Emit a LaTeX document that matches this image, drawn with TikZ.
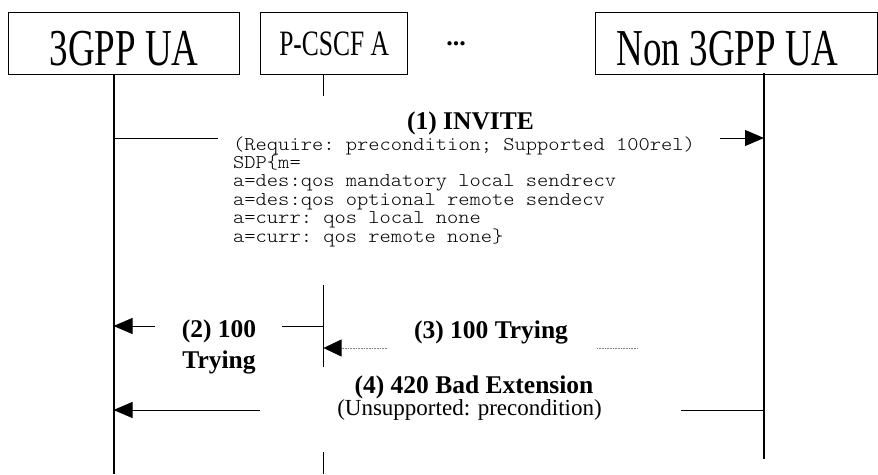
\documentclass[tikz,border=0pt]{standalone}
\usepackage{fontspec}
\setmainfont{Liberation Serif}
\newfontfamily\sdpfont{lmmonolt10-regular}[Extension=.otf, FakeStretch=1.1]
\usepackage{graphicx}
\usetikzlibrary{arrows.meta,positioning}
\setlength{\parindent}{0pt}
\newcommand{\tallname}[1]{\scalebox{1}[1.4]{#1}}
\tikzset{entity box/.style={rectangle, draw, line width=1.4pt, inner sep=0pt,
    anchor=north west, minimum height=62pt}}
\tikzset{big name/.style={font=\fontsize{37}{37}\selectfont, text height=44pt, text depth=0pt}}
\tikzset{life line/.style={draw, line width=2pt}}
\tikzset{proxy line/.style={draw, line width=1.4pt}}
\tikzset{msg line/.style={draw, line width=1pt}}
\tikzset{msg arrow/.style={msg line, -{Triangle[length=19pt,width=16pt]}}}
\tikzset{weak line/.style={draw=gray, line width=0.6pt, densely dotted}}
\tikzset{weak arrow/.style={weak line, -{Triangle[length=18pt,width=17pt,color=black]}}}
\tikzset{msg label/.style={font=\fontsize{25.5}{31}\selectfont\bfseries, inner sep=0pt, anchor=base}}
\tikzset{msg note/.style={font=\fontsize{23}{23}\selectfont, inner sep=0pt, anchor=base}}
\tikzset{sdp text/.style={font=\sdpfont\fontsize{19.5}{18.4}\selectfont\frenchspacing, inner sep=0pt,
    anchor=base west, text width=480pt, align=flush left}}

\begin{document}
\begin{tikzpicture}
      [x=1pt, y=-1pt]
      \useasboundingbox (0,0) rectangle (878,474);
      \node [entity box, big name, minimum width=231pt]  (ua box)    at (8,12)   {\tallname{3GPP UA}};
      \node [entity box, minimum width=147pt, font=\fontsize{25.5}{25.5}\selectfont]
                                                         (pcscf box) at (260,12) {\tallname{P-CSCF A}};
      \node [msg label, font=\fontsize{26}{26}\selectfont\bfseries] (dots) at (456,45) {...};
      \node [entity box, big name, minimum width=282pt, text width=240pt, inner xsep=21pt, align=flush left]
                                                         (nonua box) at (595,12) {\tallname{Non 3GPP UA}};

      \coordinate (ua top)    at (113.5,74);
      \coordinate (ua end)    at (113.5,474);
      \coordinate (pcscf top) at (323.5,74);
      \coordinate (pcscf a)   at (323.5,96);
      \coordinate (pcscf b)   at (323.5,285);
      \coordinate (pcscf c)   at (323.5,367);
      \coordinate (pcscf d)   at (323.5,452);
      \coordinate (pcscf end) at (323.5,474);
      \coordinate (nonua top) at (764,73);
      \coordinate (nonua end) at (764,459);

      \draw [life line]  (ua top)    to (ua end);
      \draw [proxy line] (pcscf top) to (pcscf a);
      \draw [proxy line] (pcscf b)   to (pcscf c);
      \draw [proxy line] (pcscf d)   to (pcscf end);
      \draw [life line]  (nonua top) to (nonua end);

      \coordinate (m1 a) at (113.5,138);
      \coordinate (m1 b) at (218,138);
      \coordinate (m1 c) at (720,138);
      \coordinate (m1 d) at (764,138);
      \coordinate (m2 a) at (155,326);
      \coordinate (m2 b) at (113.5,326);
      \coordinate (m2 c) at (282,326);
      \coordinate (m2 d) at (323.5,326);
      \coordinate (m3 a) at (387,348);
      \coordinate (m3 b) at (323.5,348);
      \coordinate (m3 c) at (597,348);
      \coordinate (m3 d) at (638,348);
      \coordinate (m4 a) at (260,410);
      \coordinate (m4 b) at (113.5,410);
      \coordinate (m4 c) at (681,410);
      \coordinate (m4 d) at (764,410);

      \node [msg label] (m1 label) at (470.5,129) {(1) INVITE};
      \node [sdp text]  (m1 sdp)   at (233,150)
            {(Require: precondition; Supported 100rel)\\
             SDP\{m=\\
             a=des:qos mandatory local sendrecv\\
             a=des:qos optional remote sendecv\\
             a=curr: qos local none\\
             a=curr: qos remote none\}};
      \node [msg label, text width=100pt, align=flush center] (m2 label) at (219,337) {(2) 100\\Trying};
      \node [msg label] (m3 label) at (491,338) {(3) 100 Trying};
      \node [msg label] (m4 label) at (474,393) {(4) 420 Bad Extension};
      \node [msg note]  (m4 note)  at (469.5,415) {(Unsupported: precondition)};

      \draw [msg line]   (m1 a) to (m1 b);
      \draw [msg arrow]  (m1 c) to (m1 d);
      \draw [msg arrow]  (m2 a) to (m2 b);
      \draw [msg line]   (m2 c) to (m2 d);
      \draw [weak arrow] (m3 a) to (m3 b);
      \draw [weak line]  (m3 c) to (m3 d);
      \draw [msg arrow]  (m4 a) to (m4 b);
      \draw [msg line]   (m4 c) to (m4 d);
    \end{tikzpicture}
\end{document}
